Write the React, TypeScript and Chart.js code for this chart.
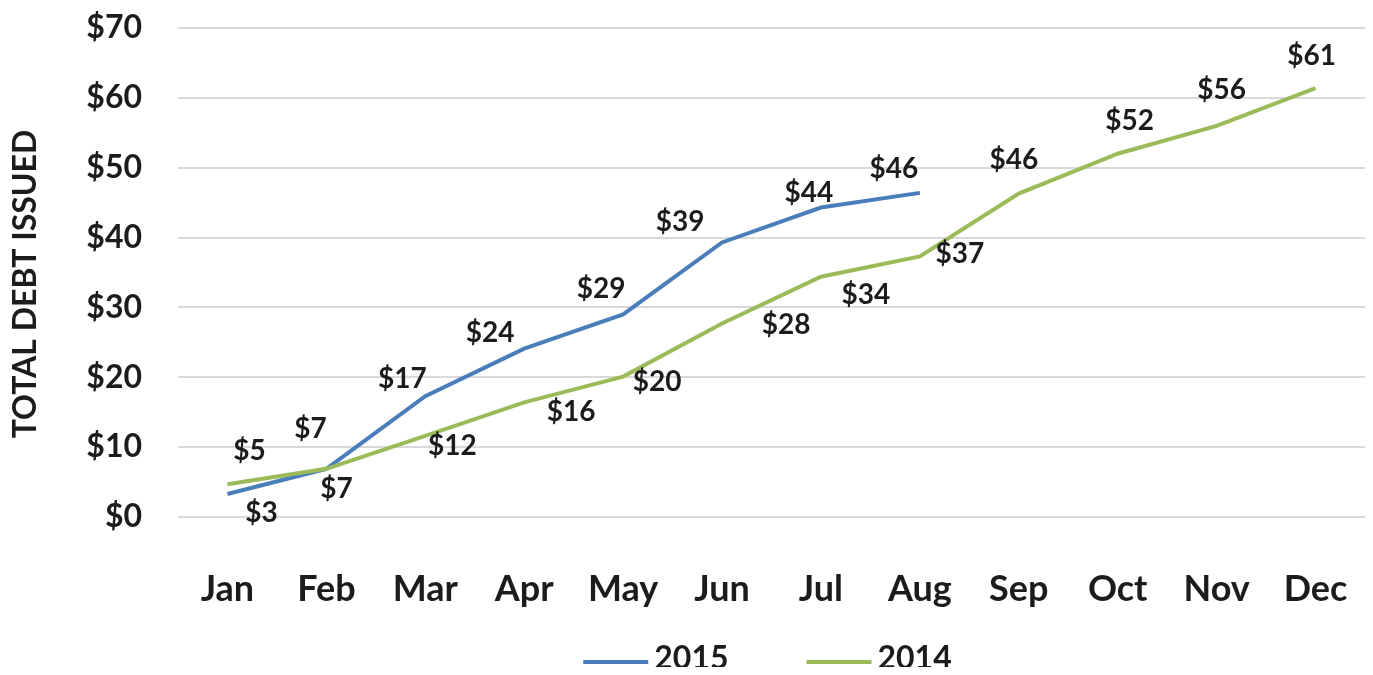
import React, { useEffect, useRef } from "react";
import { Chart, registerables } from "chart.js";

Chart.register(...registerables);

const months = ["Jan", "Feb", "Mar", "Apr", "May", "Jun", "Jul", "Aug", "Sep", "Oct", "Nov", "Dec"];
const debt2015 = [3.3, 6.9, 17.3, 24.1, 29.0, 39.3, 44.3, 46.4];
const debt2014 = [4.7, 6.9, 11.6, 16.4, 20.1, 27.7, 34.4, 37.3, 46.3, 52.0, 56.0, 61.4];
const yTicks = [0, 10, 20, 30, 40, 50, 60, 70];
const seriesNames = ["2015", "2014"];
const yTitle = "TOTAL DEBT ISSUED";

// label placement offsets (pixels, relative to each point)
const offsets2015 = [[34, 19], [-16, -40], [-23, -17], [-34, -16], [-22, -25], [-42, -20], [-12, -15], [-26, -24]];
const offsets2014 = [[22, -33], [10, 20], [27, 10], [47, 10], [34, 5], [64, 1], [45, 18], [40, -2], [-5, -34], [12, -33], [5, -36], [-4, -32]];

const BLUE = "#4A7EBB";
const GREEN = "#9BBB59";
const TEXT = "#1c1c1c";
const FONT = "Lato, 'Open Sans', sans-serif";

const labelPlugin = {
  id: "customLabels",
  afterDatasetsDraw(chart: any) {
    const ctx = chart.ctx;
    ctx.save();
    ctx.fillStyle = TEXT;
    ctx.font = `bold 28px ${FONT}`;
    ctx.textAlign = "center";
    ctx.textBaseline = "middle";
    chart.data.datasets.forEach((ds: any, di: number) => {
      const meta = chart.getDatasetMeta(di);
      const offs = di === 0 ? offsets2015 : offsets2014;
      meta.data.forEach((el: any, i: number) => {
        const v = ds.data[i];
        if (v == null) return;
        const o = offs[i] || [0, -20];
        ctx.fillText("$" + Math.round(v), el.x + o[0], el.y + o[1]);
      });
    });
    ctx.restore();
  },
  afterDraw(chart: any) {
    const ctx = chart.ctx;
    const area = chart.chartArea;
    ctx.save();
    // y title
    ctx.fillStyle = TEXT;
    ctx.font = `bold 32px ${FONT}`;
    ctx.textAlign = "center";
    ctx.textBaseline = "middle";
    ctx.translate(18, 276);
    ctx.rotate(-Math.PI / 2);
    ctx.fillText(yTitle, 0, 0);
    ctx.restore();

    // legend
    ctx.save();
    ctx.font = `bold 32px ${FONT}`;
    ctx.textBaseline = "middle";
    ctx.textAlign = "left";
    const lineW = 65;
    const gap = 6;
    const itemGap = 78;
    const colors = [BLUE, GREEN];
    const widths = seriesNames.map((n) => ctx.measureText(n).width);
    const total = widths.reduce((a, w) => a + lineW + gap + w, 0) + itemGap * (seriesNames.length - 1);
    let x = (area.left + area.right) / 2 - total / 2 - 4;
    const y = 651;
    seriesNames.forEach((n, i) => {
      ctx.strokeStyle = colors[i];
      ctx.lineWidth = 4;
      ctx.beginPath();
      ctx.moveTo(x, y + 3);
      ctx.lineTo(x + lineW, y + 3);
      ctx.stroke();
      x += lineW + gap;
      ctx.fillStyle = TEXT;
      ctx.fillText(n, x, y);
      x += widths[i] + itemGap;
    });
    ctx.restore();
  },
};

export default function App() {
  const ref = useRef<HTMLCanvasElement>(null);
  useEffect(() => {
    if (!ref.current) return;
    const chart = new Chart(ref.current, {
      type: "line",
      data: {
        labels: months,
        datasets: [
          {
            label: seriesNames[0],
            data: debt2015,
            borderColor: BLUE,
            backgroundColor: BLUE,
            borderWidth: 4,
            pointRadius: 0,
            tension: 0,
            order: 1,
          },
          {
            label: seriesNames[1],
            data: debt2014,
            borderColor: GREEN,
            backgroundColor: GREEN,
            borderWidth: 4,
            pointRadius: 0,
            tension: 0,
            order: 0,
          },
        ],
      },
      options: {
        animation: false,
        responsive: true,
        maintainAspectRatio: false,
        layout: { padding: { top: 20, bottom: 57, left: 0, right: 0 }, autoPadding: false },
        plugins: {
          legend: { display: false },
          tooltip: { enabled: false },
          title: { display: false },
        },
        scales: {
          x: {
            offset: true,
            afterFit(scale: any) {
              scale.height = 93;
              scale.paddingLeft = 0;
              scale.paddingRight = 0;
              scale.paddingTop = 0;
              scale.paddingBottom = 0;
            },
            grid: { display: false, drawTicks: false },
            border: { display: false },
            ticks: {
              color: TEXT,
              font: { family: FONT, size: 36, weight: "bold" },
              padding: 51,
              maxRotation: 0,
              autoSkip: false,
            },
          },
          y: {
            min: 0,
            max: 70,
            afterFit(scale: any) {
              scale.width = 170;
              scale.paddingTop = 0;
              scale.paddingBottom = 0;
              scale.paddingLeft = 0;
              scale.paddingRight = 0;
            },
            afterBuildTicks(scale: any) {
              scale.ticks = yTicks.map((v) => ({ value: v }));
            },
            grid: { color: "#d9d9d9", lineWidth: 2, drawTicks: false },
            border: { display: false },
            ticks: {
              color: TEXT,
              font: { family: FONT, size: 32, weight: "bold" },
              padding: 36,
              callback: (v: any) => "$" + v,
            },
          },
        },
      },
      plugins: [labelPlugin],
    });
    return () => chart.destroy();
  }, []);
  return (
    <div style={{ width: 1357, height: 659, position: "relative" }}>
      <canvas ref={ref} />
    </div>
  );
}
